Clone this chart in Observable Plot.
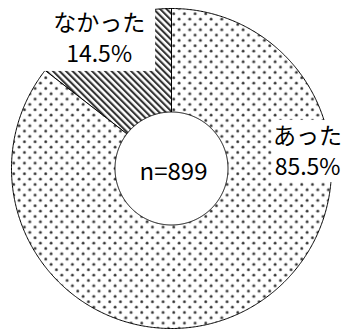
<!DOCTYPE html>
<html><head><meta charset="utf-8">
<script src="https://cdn.jsdelivr.net/npm/d3@7"></script>
<script src="https://cdn.jsdelivr.net/npm/@observablehq/plot@0.6"></script>
<style>
html,body{margin:0;padding:0;background:#fff;}
#chart svg{display:block;}
</style>
</head><body><div id="chart"></div>
<script>
// ---- data ----
const categories = ["なかった", "あった"];
const percents = [14.5, 85.5];
const percentLabels = ["14.5%", "85.5%"];
const patternIds = ["stripes", "dots"];
const sampleLabel = "n=899";

// ---- layout (geometry only) ----
const W = 342, H = 330;
const R = 160, cx = 171, cy = 168;     // pixel centre/outer radius
const inner = 56.5 / R;                // inner radius in unit coords
const labelLayout = [
  {angle: -29.1, radius: 0.93, halfW: 0.353, halfH: 0.206},
  {angle: 82.9, radius: 0.857, halfW: 0.219, halfH: 0.194}
];
const FONT = "'Noto Sans CJK JP',sans-serif";

// ---- slice polygons ----
const rad = a => a * Math.PI / 180;
let start = -percents[0] * 3.6;
const slices = categories.map((c, i) => {
  const a0 = start, a1 = start + percents[i] * 3.6;
  start = a1;
  const pts = [];
  const n = Math.max(2, Math.ceil((a1 - a0) / 0.5));
  for (let k = 0; k <= n; k++) {
    const a = a0 + (a1 - a0) * k / n;
    pts.push({x: Math.sin(rad(a)), y: Math.cos(rad(a))});
  }
  for (let k = n; k >= 0; k--) {
    const a = a0 + (a1 - a0) * k / n;
    pts.push({x: inner * Math.sin(rad(a)), y: inner * Math.cos(rad(a))});
  }
  pts.push(pts[0]);
  return {category: c, pts, pattern: patternIds[i]};
});

const labels = categories.map((c, i) => {
  const L = labelLayout[i];
  const x = L.radius * Math.sin(rad(L.angle)), y = L.radius * Math.cos(rad(L.angle));
  return {name: c, pct: percentLabels[i], x, y,
          x1: x - L.halfW, x2: x + L.halfW, y1: y - L.halfH, y2: y + L.halfH};
});

const chart = Plot.plot({
  width: W, height: H, margin: 0,
  x: {domain: [-cx / R, (W - cx) / R], axis: null},
  y: {domain: [-(H - cy) / R, cy / R], axis: null},
  style: {background: "#fff", overflow: "visible"},
  marks: [
    ...slices.map(s => Plot.line(s.pts, {x: "x", y: "y", curve: "linear",
      fill: `url(#${s.pattern})`, stroke: "#000", strokeWidth: 1})),
    Plot.rect(labels, {x1: "x1", x2: "x2", y1: "y1", y2: "y2", fill: "#fff"}),
    Plot.text(labels, {x: "x", y: "y", text: "name", dy: -15, fontSize: 23,
      fontFamily: FONT, fill: "#000"}),
    Plot.text(labels, {x: "x", y: "y", text: "pct", dy: 16, fontSize: 23,
      fontFamily: FONT, fill: "#000"}),
    Plot.text([{x: 0, y: 0, t: sampleLabel}], {x: "x", y: "y", text: "t", dx: 2, dy: 4,
      fontSize: 24, fontFamily: FONT, fill: "#000"})
  ]
});

d3.select(chart).insert("defs", ":first-child").html(`
  <pattern id="dots" patternUnits="userSpaceOnUse" width="10.667" height="10.667">
    <rect width="10.667" height="10.667" fill="#fff"/>
    <circle cx="2.6" cy="2.6" r="1.6" fill="#777"/>
    <circle cx="2.6" cy="2.6" r="0.9" fill="#222"/>
    <circle cx="7.93" cy="7.93" r="1.6" fill="#777"/>
    <circle cx="7.93" cy="7.93" r="0.9" fill="#222"/>
  </pattern>
  <pattern id="stripes" patternUnits="userSpaceOnUse" width="4.6" height="10" patternTransform="rotate(-45)">
    <rect width="4.6" height="10" fill="#fff"/>
    <rect width="2.1" height="10" fill="#333"/>
  </pattern>`);

document.getElementById("chart").appendChild(chart);
</script>
</body></html>
